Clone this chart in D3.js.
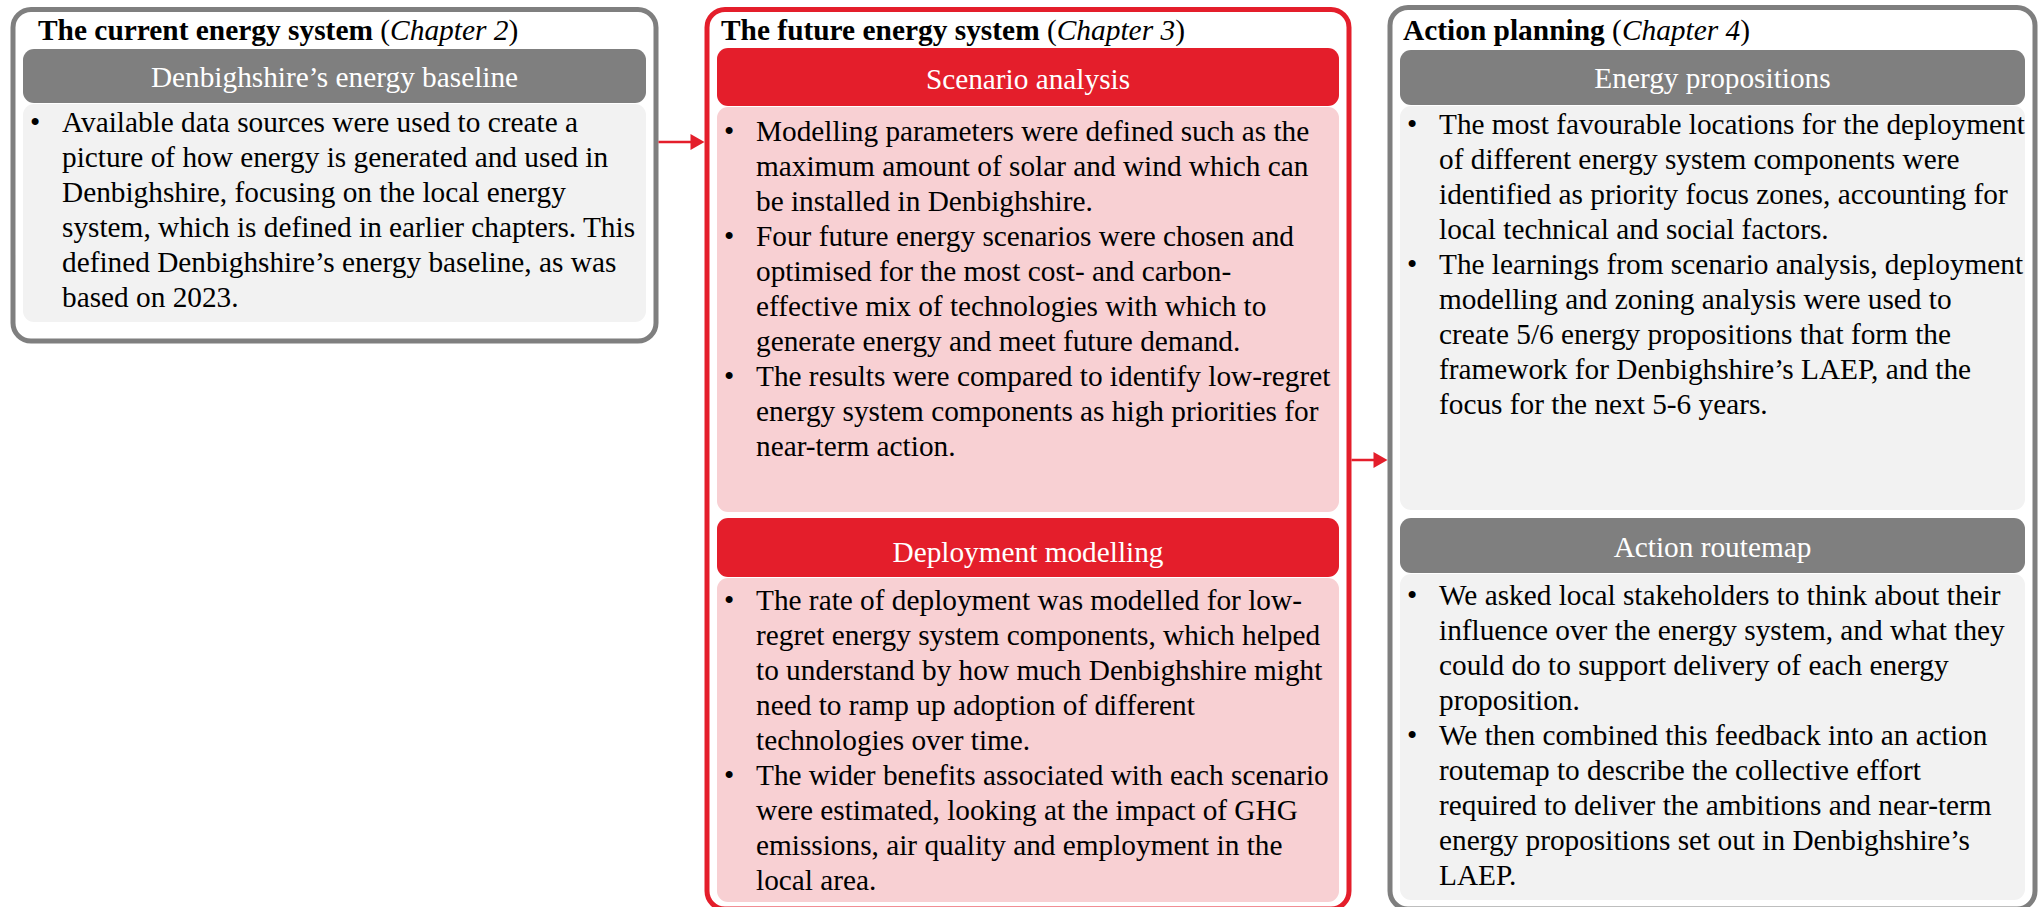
<!DOCTYPE html>
<html>
<head>
<meta charset="utf-8">
<script src="https://cdn.jsdelivr.net/npm/d3@7"></script>
<style>
  body { margin: 0; background: #fff; }
  svg { display: block; }
  text { font-family: "Liberation Serif", "Times New Roman", serif; }
</style>
</head>
<body>
<svg id="chart"></svg>
<script>
// columns of the process diagram
const columns = ['current', 'future', 'action'];
const columnTitles = ['The current energy system', 'The future energy system', 'Action planning'];
const columnChapters = ['Chapter 2', 'Chapter 3', 'Chapter 4'];
const columnThemes = ['grey', 'red', 'grey'];

// sections inside the columns
const sectionColumn = [0, 1, 1, 2, 2];
const sectionHeadings = [
  'Denbighshire’s energy baseline',
  'Scenario analysis',
  'Deployment modelling',
  'Energy propositions',
  'Action routemap'
];
const sectionBullets = [
  [
    ['Available data sources were used to create a', 'picture of how energy is generated and used in',
     'Denbighshire, focusing on the local energy', 'system, which is defined in earlier chapters. This',
     'defined Denbighshire’s energy baseline, as was', 'based on 2023.']
  ],
  [
    ['Modelling parameters were defined such as the', 'maximum amount of solar and wind which can',
     'be installed in Denbighshire.'],
    ['Four future energy scenarios were chosen and', 'optimised for the most cost- and carbon-',
     'effective mix of technologies with which to', 'generate energy and meet future demand.'],
    ['The results were compared to identify low-regret', 'energy system components as high priorities for',
     'near-term action.']
  ],
  [
    ['The rate of deployment was modelled for low-', 'regret energy system components, which helped',
     'to understand by how much Denbighshire might', 'need to ramp up adoption of different',
     'technologies over time.'],
    ['The wider benefits associated with each scenario', 'were estimated, looking at the impact of GHG',
     'emissions, air quality and employment in the', 'local area.']
  ],
  [
    ['The most favourable locations for the deployment', 'of different energy system components were',
     'identified as priority focus zones, accounting for', 'local technical and social factors.'],
    ['The learnings from scenario analysis, deployment', 'modelling and zoning analysis were used to',
     'create 5/6 energy propositions that form the', 'framework for Denbighshire’s LAEP, and the',
     'focus for the next 5-6 years.']
  ],
  [
    ['We asked local stakeholders to think about their', 'influence over the energy system, and what they',
     'could do to support delivery of each energy', 'proposition.'],
    ['We then combined this feedback into an action', 'routemap to describe the collective effort',
     'required to deliver the ambitions and near-term', 'energy propositions set out in Denbighshire’s',
     'LAEP.']
  ]
];

// arrows between columns
const arrowFrom = [0, 1];
const arrowTo = [1, 2];

// ---- layout ----
const W = 2040, H = 907;
const palette = {
  grey: { border: '#7f7f7f', head: '#7f7f7f', body: '#f2f2f2' },
  red:  { border: '#e41e2b', head: '#e41e2b', body: '#f8d0d3' }
};
const boxTop = [9.5, 9.5, 7.5];
const boxBottom = [341, 909, 909];
const titleInset = [25, 14, 13];
const sectionTop = [49, 48, 518, 50, 518];
const sectionHeadH = [54, 58, 59, 55, 55];
const sectionBottom = [322, 512, 902, 510, 900];
const headBaseline = [87, 89, 562, 88, 557];
const firstBaseline = [132, 141, 610, 134, 605];
const arrowY = [142, 460];
const lineH = 35, fontSize = 29.3, titleSize = 29.4, inset = 10;

const svg = d3.select('#chart').attr('width', W).attr('height', H);

// column left edges and widths
const colX = d3.scaleOrdinal().domain(columns).range([13, 707, 1390]);
const colW = d3.scaleOrdinal().domain(columns).range([643, 642, 645]);

// column boxes
const box = svg.selectAll('g.col')
  .data(columns)
  .enter()
  .append('g')
  .attr('class', 'col');

box.append('rect')
  .attr('x', d => colX(d))
  .attr('y', (d, i) => boxTop[i])
  .attr('width', d => colW(d))
  .attr('height', (d, i) => boxBottom[i] - boxTop[i])
  .attr('rx', 18)
  .style('fill', '#fff')
  .style('stroke', (d, i) => palette[columnThemes[i]].border)
  .style('stroke-width', 5);

let title = box.append('text')
  .attr('x', (d, i) => colX(d) + titleInset[i])
  .attr('y', 40)
  .style('font-size', titleSize + 'px')
  .style('fill', '#000');
title.append('tspan').style('font-weight', 'bold').text((d, i) => columnTitles[i] + ' ');
title.append('tspan').text('(');
title.append('tspan').style('font-style', 'italic').text((d, i) => columnChapters[i]);
title.append('tspan').text(')');

// sections
const sections = sectionHeadings.map((h, i) => ({
  heading: h,
  col: columns[sectionColumn[i]],
  theme: palette[columnThemes[sectionColumn[i]]],
  top: sectionTop[i],
  headH: sectionHeadH[i],
  bottom: sectionBottom[i],
  headY: headBaseline[i],
  y0: firstBaseline[i],
  bullets: sectionBullets[i]
}));

const sec = svg.selectAll('g.section')
  .data(sections)
  .enter()
  .append('g')
  .attr('class', 'section');

sec.append('rect')
  .attr('x', d => colX(d.col) + inset)
  .attr('y', d => d.top + d.headH + 1)
  .attr('width', d => colW(d.col) - 2 * inset)
  .attr('height', d => d.bottom - d.top - d.headH - 1)
  .attr('rx', 11)
  .style('fill', d => d.theme.body);

sec.append('rect')
  .attr('x', d => colX(d.col) + inset)
  .attr('y', d => d.top)
  .attr('width', d => colW(d.col) - 2 * inset)
  .attr('height', d => d.headH)
  .attr('rx', 11)
  .style('fill', d => d.theme.head);

sec.append('text')
  .attr('x', d => colX(d.col) + colW(d.col) / 2)
  .attr('y', d => d.headY)
  .attr('text-anchor', 'middle')
  .style('font-size', fontSize + 'px')
  .style('fill', '#fff')
  .text(d => d.heading);

sec.each(function(d) {
  let g = d3.select(this);
  let left = colX(d.col) + inset;
  let n = 0;
  d.bullets.forEach(lines => {
    g.append('text')
      .attr('x', left + 7)
      .attr('y', d.y0 + n * lineH)
      .style('font-size', fontSize + 'px')
      .text('•');
    lines.forEach(line => {
      g.append('text')
        .attr('x', left + 39)
        .attr('y', d.y0 + n * lineH)
        .style('font-size', fontSize + 'px')
        .style('fill', '#000')
        .text(line);
      n++;
    });
  });
});

// arrows
const arrows = arrowFrom.map((f, i) => ({
  x1: colX(columns[f]) + colW(columns[f]) + 2.5,
  x2: colX(columns[arrowTo[i]]) - 2.5,
  y: arrowY[i]
}));

const arr = svg.selectAll('g.arrow')
  .data(arrows)
  .enter()
  .append('g')
  .attr('class', 'arrow');

arr.append('line')
  .attr('x1', d => d.x1)
  .attr('x2', d => d.x2 - 12)
  .attr('y1', d => d.y)
  .attr('y2', d => d.y)
  .style('stroke', '#e41e2b')
  .style('stroke-width', 2.5);

arr.append('path')
  .attr('d', d => `M${d.x2 - 14},${d.y - 8}L${d.x2},${d.y}L${d.x2 - 14},${d.y + 8}Z`)
  .style('fill', '#e41e2b');
</script>
</body>
</html>
